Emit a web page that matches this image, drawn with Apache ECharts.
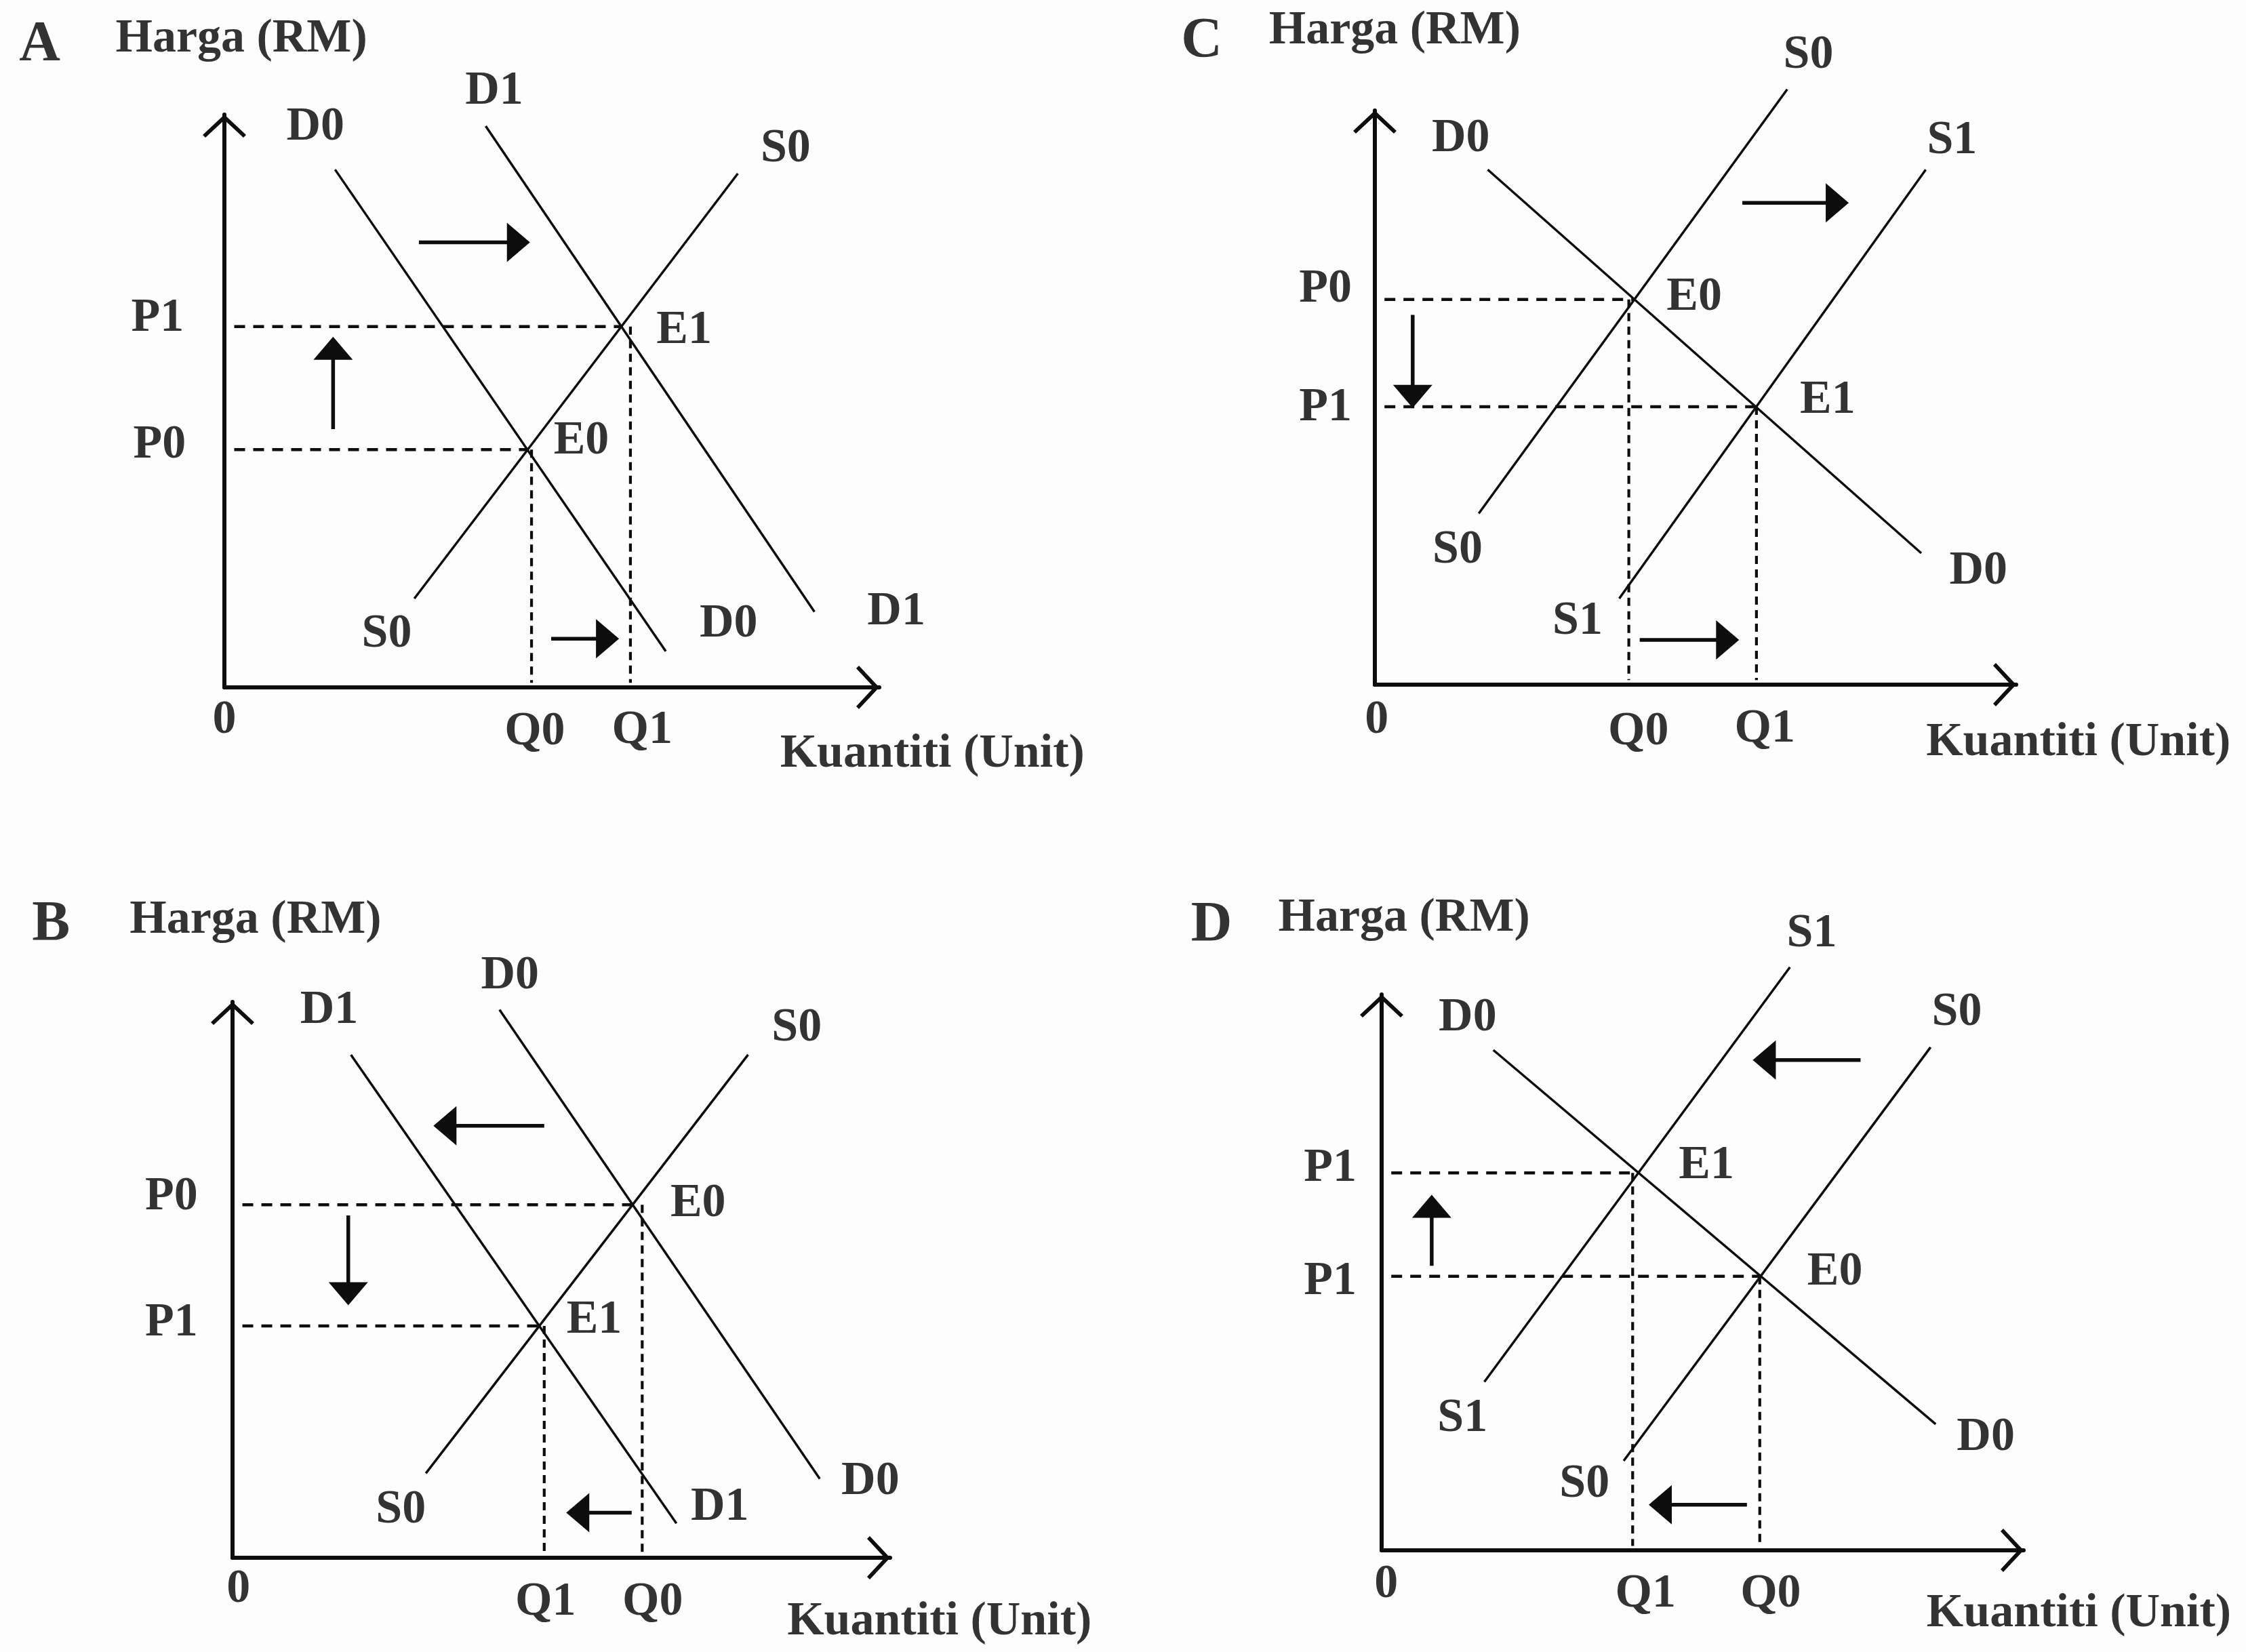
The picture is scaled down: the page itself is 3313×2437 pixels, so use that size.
<!DOCTYPE html>
<html>
<head>
<meta charset="utf-8">
<script src="https://cdn.jsdelivr.net/npm/echarts@6/dist/echarts.min.js"></script>
<style>
html,body{margin:0;padding:0;background:#fdfdfd;}
#c{width:3313px;height:2437px;}
</style>
</head>
<body>
<div id="c"></div>
<script>
// ---------- DATA (per panel, in axis units 0..100) ----------
// equilibrium rows: [name, x, y, x of the dashed quantity guide]
// Panel A: demand rises
const linesA = [['D0',[16.9,90.4],[67.4,6.3]], ['D1',[39.9,98.0],[90.1,13.2]], ['S0',[29.0,15.5],[78.4,89.7]]];
const equilA = [['E0',46.1,41.5,46.9], ['E1',60.6,63.0,62.0]];
const arrowsA = [[[29.7,77.7],[44.9,77.7]], [[16.6,45.1],[16.6,59.2]], [[49.9,8.5],[58.5,8.5]]];
const labelsA = [['A',-28.2,112.0],['Harga (RM)',2.6,113.2],['D0',13.9,97.8],['D1',41.2,104.0],['S0',85.7,94.0],
  ['P1',-10.2,64.4],['P0',-9.9,42.3],['E1',70.2,62.3],['E0',54.5,43.0],['S0',24.8,9.2],['D0',77.0,11.0],['D1',102.6,13.2],
  ['0',0,-5.8],['Q0',47.4,-7.8],['Q1',63.8,-7.6],['Kuantiti (Unit)',108.1,-11.7]];

// Panel B: demand falls
const linesB = [['D1',[18.0,90.5],[67.5,6.2]], ['D0',[40.6,98.6],[89.3,14.2]], ['S0',[29.4,15.2],[78.4,90.5]]];
const equilB = [['E0',60.8,63.5,62.3], ['E1',46.6,41.7,47.4]];
const arrowsB = [[[47.4,77.7],[32.3,77.7]], [[17.6,61.6],[17.6,47.5]], [[60.7,8.1],[52.5,8.1]]];
const labelsB = [['B',-27.6,113.7],['Harga (RM)',3.5,114.7],['D0',42.2,104.7],['D1',14.7,98.4],['S0',85.8,95.3],
  ['P0',-9.3,64.9],['E0',70.8,63.7],['P1',-9.3,42.2],['E1',55.0,42.7],['S0',25.6,8.5],['D1',74.1,9.0],['D0',97.0,13.7],
  ['0',0.9,-5.7],['Q1',47.6,-8.1],['Q0',63.9,-8.1],['Kuantiti (Unit)',107.5,-11.6]];

// Panel C: supply rises
const linesC = [['D0',[17.6,89.7],[85.2,22.9]], ['S0',[16.2,29.8],[64.3,103.7]], ['S1',[38.1,15.0],[85.9,89.7]]];
const equilC = [['E0',40.5,67.1,39.6], ['E1',59.4,48.4,59.5]];
const arrowsC = [[[57.3,83.9],[72.1,83.9]], [[5.9,64.4],[5.9,50.2]], [[41.3,7.8],[55.0,7.8]]];
const labelsC = [['C',-27.0,111.9],['Harga (RM)',3.1,113.8],['S0',67.6,109.6],['D0',13.4,95.0],['S1',90.0,94.7],
  ['P0',-7.7,68.8],['E0',49.8,67.4],['P1',-7.7,48.2],['E1',70.6,49.5],['S0',12.9,23.4],['D0',94.1,19.7],['S1',31.6,11.0],
  ['0',0.3,-6.2],['Q0',41.1,-8.3],['Q1',60.8,-7.8],['Kuantiti (Unit)',109.7,-10.1]];

// Panel D: supply falls
const linesD = [['D0',[17.4,90.0],[86.3,22.7]], ['S1',[16.0,30.3],[63.6,104.9]], ['S0',[37.7,16.1],[85.5,90.5]]];
const equilD = [['E1',40.0,67.9,39.1], ['E0',59.0,49.3,58.9]];
const arrowsD = [[[74.6,88.2],[59.6,88.2]], [[7.8,51.2],[7.8,61.9]], [[56.9,8.2],[43.4,8.2]]];
const labelsD = [['D',-26.5,112.3],['Harga (RM)',3.5,113.7],['S1',67.0,110.9],['D0',13.4,95.7],['S0',89.6,96.7],
  ['P1',-8.0,68.7],['E1',50.6,69.2],['P1',-8.0,48.3],['E0',70.6,50.0],['S1',12.6,23.7],['D0',94.1,20.2],['S0',31.6,11.8],
  ['0',0.7,-6.2],['Q1',41.1,-7.9],['Q0',60.6,-7.9],['Kuantiti (Unit)',108.6,-11.4]];

// ---------- LAYOUT / STYLE ----------
const INK = '#0d0d0d';
const TEXT = '#000000';
const FONT = '"Liberation Serif", "Times New Roman", serif';
const CHEVRON = 'path://M32,0 L64,30 L60,34 L32,8 L4,34 L0,30 Z';
const gridBoxes = [
  {left:331, top:169, width:966, height:845},   // A
  {left:343, top:1478, width:970, height:820},  // B
  {left:2028, top:163, width:946, height:847},  // C
  {left:2038, top:1467, width:947, height:820}  // D
];
const panels = [
  [linesA, equilA, arrowsA, labelsA],
  [linesB, equilB, arrowsB, labelsB],
  [linesC, equilC, arrowsC, labelsC],
  [linesD, equilD, arrowsD, labelsD]
];

const axisLine = {
  show: true, onZero: false,
  symbol: ['none', CHEVRON], symbolSize: [64, 34], symbolOffset: [0, -17],
  lineStyle: {color: INK, width: 6}
};
const grid = gridBoxes.map(b => Object.assign({containLabel: false}, b));
const xAxis = gridBoxes.map((b, i) => ({
  gridIndex: i, type: 'value', min: 0, max: 100,
  axisLine: axisLine, axisTick: {show: false}, axisLabel: {show: false}, splitLine: {show: false}
}));
const yAxis = gridBoxes.map((b, i) => ({
  gridIndex: i, type: 'value', min: 0, max: 100,
  axisLine: axisLine, axisTick: {show: false}, axisLabel: {show: false}, splitLine: {show: false}
}));

const series = [];
panels.forEach((p, i) => {
  const [lines, equil, arrows, labels] = p;
  lines.forEach(l => series.push({
    type: 'line', name: l[0], xAxisIndex: i, yAxisIndex: i, data: [l[1], l[2]],
    symbol: 'none', showSymbol: false, clip: false, silent: true,
    lineStyle: {color: INK, width: 3.5}
  }));
  equil.forEach(e => {
    series.push({
      type: 'line', xAxisIndex: i, yAxisIndex: i, data: [[1.5, e[2]], [e[1], e[2]]],
      symbol: 'none', showSymbol: false, silent: true,
      lineStyle: {color: INK, width: 4.5, type: [16, 12]}
    });
    series.push({
      type: 'line', xAxisIndex: i, yAxisIndex: i, data: [[e[3], e[2]], [e[3], 0.8]],
      symbol: 'none', showSymbol: false, silent: true,
      lineStyle: {color: INK, width: 4.2, type: [12, 8]}
    });
  });
  arrows.forEach(a => {
    const dx = a[1][0] - a[0][0], dy = a[1][1] - a[0][1];
    let rot = 0;
    if (Math.abs(dx) > Math.abs(dy)) rot = dx > 0 ? -90 : 90; else rot = dy > 0 ? 0 : 180;
    series.push({
      type: 'line', xAxisIndex: i, yAxisIndex: i,
      data: [{value: a[0], symbol: 'none'}, {value: a[1], symbol: 'triangle', symbolSize: [58, 34], symbolRotate: rot}],
      symbol: 'none', showSymbol: true, showAllSymbol: true, silent: true, clip: false,
      lineStyle: {color: INK, width: 5.5}, itemStyle: {color: INK}
    });
  });
  series.push({
    type: 'scatter', xAxisIndex: i, yAxisIndex: i, clip: false, silent: true,
    symbol: 'circle', symbolSize: 1, itemStyle: {color: 'rgba(0,0,0,0)'},
    data: labels.map(t => ({
      name: t[0], value: [t[1], t[2]],
      label: /^[A-D]$/.test(t[0]) ? {fontSize: 84} : {}
    })),
    label: {
      show: true, position: 'inside', formatter: '{b}', color: TEXT,
      textBorderWidth: 0, fontFamily: FONT, fontWeight: 'bold', fontSize: 70
    }
  });
});

const chart = echarts.init(document.getElementById('c'), null, {renderer: 'canvas'});
chart.setOption({
  backgroundColor: '#fdfdfd',
  animation: false,
  grid: grid, xAxis: xAxis, yAxis: yAxis,
  series: series
});
</script>
</body>
</html>
